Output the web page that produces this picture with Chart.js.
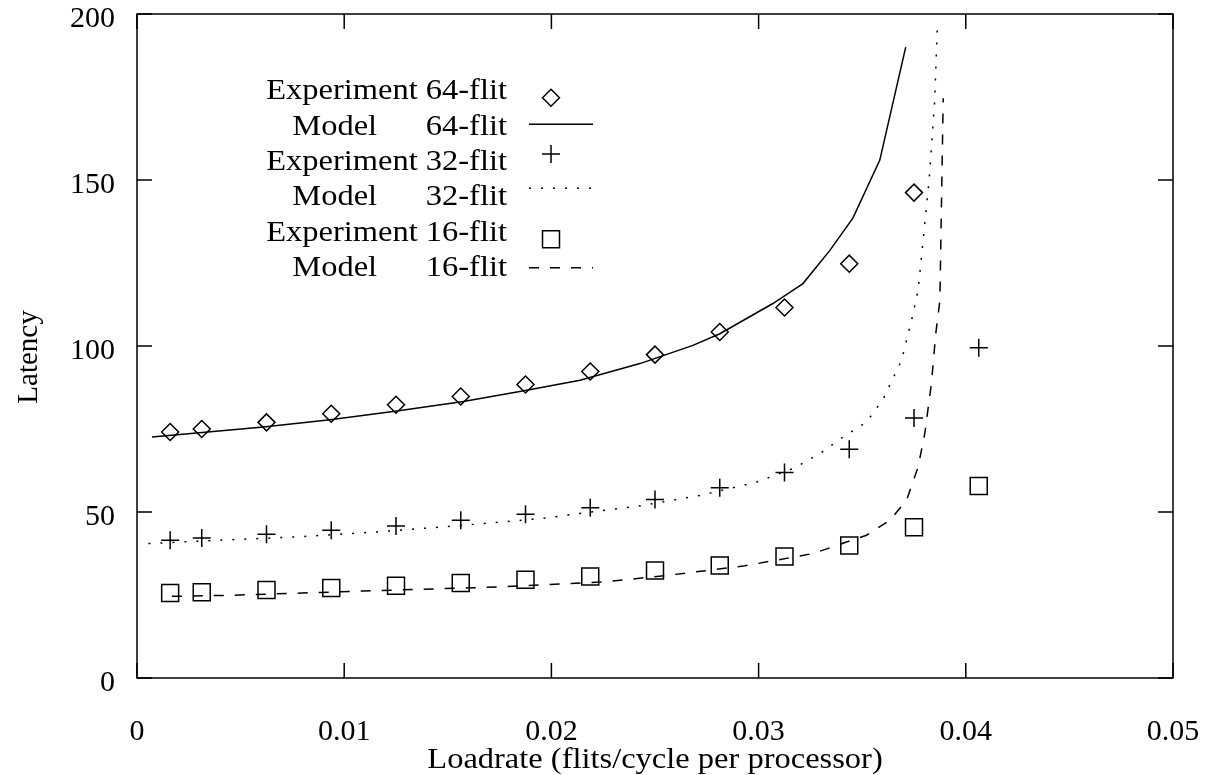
<!DOCTYPE html>
<html>
<head>
<meta charset="utf-8">
<title>Latency vs Loadrate</title>
<script src="https://cdn.jsdelivr.net/npm/chart.js@4.4.0/dist/chart.umd.min.js"></script>
<style>
    html, body { margin: 0; padding: 0; background: #fff; }
    #wrap { width: 1207px; height: 775px; }
</style>
</head>
<body>
<div id="wrap"><canvas id="latencyChart" width="1207" height="775"></canvas></div>
<script>
// Experiment load rates (flits/cycle per processor)
const expLoad = [0.0016, 0.003125, 0.00625, 0.009375, 0.0125, 0.015625, 0.01875, 0.021875, 0.025, 0.028125, 0.03125, 0.034375, 0.0375, 0.040625];

// Measured latencies
const exp64 = [74.1, 75.0, 77.0, 79.6, 82.3, 84.8, 88.4, 92.3, 97.4, 104.2, 111.6, 124.8, 146.2];
const exp32 = [41.5, 42.2, 43.3, 44.5, 45.8, 47.5, 49.3, 51.3, 53.8, 57.3, 61.9, 68.9, 78.3, 99.5];
const exp16 = [25.6, 25.8, 26.5, 27.1, 27.8, 28.6, 29.6, 30.6, 32.4, 33.9, 36.6, 39.9, 45.4, 57.8];

// Model curves
const model64Load = [0.00072, 0.0061, 0.00932, 0.01254, 0.01575, 0.01881, 0.02138, 0.02427, 0.02683, 0.02813, 0.03069, 0.03214, 0.03344, 0.03455, 0.03585, 0.0371];
const model64 = [72.6, 75.6, 77.8, 80.4, 83.3, 86.7, 89.7, 94.7, 100.2, 103.7, 112.8, 118.8, 128.8, 138.5, 156.0, 190.0];

const model32Load = [0.00055, 0.00401, 0.00771, 0.01157, 0.01575, 0.01945, 0.02442, 0.02717, 0.0299, 0.03167, 0.03296, 0.03408, 0.03521, 0.03601, 0.0369, 0.03738, 0.0377, 0.03823, 0.0385, 0.03862];
const model32 = [40.5, 41.5, 42.5, 44.0, 46.0, 48.0, 52.0, 55.0, 59.0, 63.1, 67.6, 72.6, 77.1, 84.0, 95.7, 107.7, 116.8, 150.0, 174.0, 195.3];

const model16Load = [0.00168, 0.0045, 0.01093, 0.01736, 0.02267, 0.02556, 0.02926, 0.03263, 0.03521, 0.03633, 0.03714, 0.0377, 0.03802, 0.03834, 0.03855, 0.03875, 0.03891];
const model16 = [24.6, 24.9, 26.2, 27.4, 29.0, 30.9, 33.7, 37.5, 43.0, 47.5, 53.5, 63.6, 73.6, 88.7, 103.7, 113.7, 174.6];

// Axes
const xTicks = [0, 0.01, 0.02, 0.03, 0.04, 0.05];
const xTickLabels = ['0', '0.01', '0.02', '0.03', '0.04', '0.05'];
const yTicks = [0, 50, 100, 150, 200];
const yTickLabels = ['0', '50', '100', '150', '200'];
const xTitle = 'Loadrate (flits/cycle per processor)';
const yTitle = 'Latency';

// Legend text (name, size)
const seriesNames = ['Experiment', 'Model', 'Experiment', 'Model', 'Experiment', 'Model'];
const seriesSizes = ['64-flit', '64-flit', '32-flit', '32-flit', '16-flit', '16-flit'];

const FONT = '"Liberation Serif", "Times New Roman", serif';
const STRETCH = 1.12;

function pts(xs, ys) {
    return ys.map((y, i) => ({ x: xs[i], y: y }));
}

function expSet(label, ys, style, radius) {
    return {
        label: label,
        data: pts(expLoad, ys),
        showLine: false,
        pointStyle: style,
        pointRadius: radius,
        pointHoverRadius: radius,
        pointBorderColor: '#000',
        pointBackgroundColor: 'rgba(0,0,0,0)',
        pointBorderWidth: 1.5
    };
}

function modelSet(label, xs, ys, dash) {
    return {
        label: label,
        data: pts(xs, ys),
        showLine: true,
        borderColor: '#000',
        borderWidth: 1.5,
        borderDash: dash,
        pointRadius: 0,
        tension: 0
    };
}

const datasets = [
    expSet('Experiment 64-flit', exp64, 'rectRot', 8.5),
    modelSet('Model 64-flit', model64Load, model64, []),
    expSet('Experiment 32-flit', exp32, 'cross', 9),
    modelSet('Model 32-flit', model32Load, model32, [2, 10]),
    expSet('Experiment 16-flit', exp16, 'rect', 12),
    modelSet('Model 16-flit', model16Load, model16, [10, 11])
];

// legend rows: text baseline and sample y
const legendBase = [99, 135, 170, 205, 241, 276];
const legendSampleY = [97.7, 124.3, 154, 188.3, 239.3, 267.7];

const framePlugin = {
    id: 'gnuplotFrame',
    afterDraw(chart) {
        const ctx = chart.ctx;
        const a = chart.chartArea;
        const xs = chart.scales.x, ys = chart.scales.y;
        ctx.save();
        ctx.strokeStyle = '#000';
        ctx.fillStyle = '#000';
        ctx.lineWidth = 1.5;
        ctx.setLineDash([]);
        ctx.strokeRect(a.left, a.top, a.right - a.left, a.bottom - a.top);

        // inward ticks on all four sides
        const tl = 15;
        ctx.beginPath();
        xTicks.forEach(v => {
            const px = xs.getPixelForValue(v);
            ctx.moveTo(px, a.bottom); ctx.lineTo(px, a.bottom - tl);
            ctx.moveTo(px, a.top); ctx.lineTo(px, a.top + tl);
        });
        yTicks.forEach(v => {
            const py = ys.getPixelForValue(v);
            ctx.moveTo(a.left, py); ctx.lineTo(a.left + tl, py);
            ctx.moveTo(a.right, py); ctx.lineTo(a.right - tl, py);
        });
        ctx.stroke();

        // axis titles
        ctx.font = '29px ' + FONT;
        ctx.textBaseline = 'alphabetic';
        ctx.textAlign = 'center';
        ctx.save();
        ctx.translate((a.left + a.right) / 2, 768);
        ctx.scale(STRETCH, 1);
        ctx.fillText(xTitle, 0, 0);
        ctx.restore();

        ctx.save();
        ctx.translate(37, 357);
        ctx.rotate(-Math.PI / 2);
        ctx.fillText(yTitle, 0, 0);
        ctx.restore();

        // legend
        ctx.font = '29px ' + FONT;
        ctx.textAlign = 'right';
        const sizeRight = 507;
        const sx0 = 529, sx1 = 593, sxc = 551;
        datasets.forEach((ds, i) => {
            const base = legendBase[i];
            ctx.save();
            ctx.translate(sizeRight, base);
            ctx.scale(STRETCH, 1);
            ctx.fillText(seriesNames[i] + ' ' + seriesSizes[i], 0, 0);
            ctx.restore();
            const sy = legendSampleY[i];
            if (ds.showLine) {
                ctx.save();
                ctx.lineWidth = 1.5;
                ctx.setLineDash(ds.borderDash);
                ctx.beginPath();
                ctx.moveTo(sx0, sy);
                ctx.lineTo(sx1, sy);
                ctx.stroke();
                ctx.restore();
            } else {
                ctx.save();
                ctx.lineWidth = 1.5;
                ctx.fillStyle = 'rgba(0,0,0,0)';
                Chart.helpers.drawPoint(ctx, {
                    pointStyle: ds.pointStyle,
                    radius: ds.pointRadius,
                    rotation: 0,
                    borderWidth: 1.5
                }, sxc, sy);
                ctx.restore();
            }
        });
        ctx.restore();
    }
};

// "Model" rows keep the size column aligned with the Experiment rows
seriesNames.forEach((n, i) => {
    if (n === 'Model') seriesNames[i] = 'Model     ';
});

function noPad(s) {
    s.paddingTop = 0;
    s.paddingBottom = 0;
    s.paddingLeft = 0;
    s.paddingRight = 0;
}

function buildChart() {
    new Chart(document.getElementById('latencyChart').getContext('2d'), {
        type: 'scatter',
        data: { datasets: datasets },
        options: {
            responsive: false,
            animation: false,
            devicePixelRatio: 1,
            layout: { autoPadding: false, padding: { left: 0, top: 14, right: 34, bottom: 0 } },
            plugins: {
                legend: { display: false },
                tooltip: { enabled: false }
            },
            scales: {
                x: {
                    type: 'linear',
                    min: 0,
                    max: 0.05,
                    grid: { display: false, drawTicks: false },
                    border: { display: false },
                    afterBuildTicks: (s) => { s.ticks = xTicks.map(v => ({ value: v })); },
                    afterFit: (s) => { s.height = 97; noPad(s); },
                    ticks: {
                        color: '#000',
                        padding: 36,
                        maxRotation: 0,
                        autoSkip: false,
                        font: { family: FONT, size: 30 },
                        callback: (v, i) => xTickLabels[i]
                    }
                },
                y: {
                    type: 'linear',
                    min: 0,
                    max: 200,
                    grid: { display: false, drawTicks: false },
                    border: { display: false },
                    afterBuildTicks: (s) => { s.ticks = yTicks.map(v => ({ value: v })); },
                    afterFit: (s) => { s.width = 137; noPad(s); },
                    ticks: {
                        color: '#000',
                        padding: 22,
                        labelOffset: 5,
                        autoSkip: false,
                        font: { family: FONT, size: 30 },
                        callback: (v, i) => yTickLabels[i]
                    }
                }
            }
        },
        plugins: [framePlugin]
    });
}

// make sure the serif face is ready before the canvas text is drawn
Promise.all([
    document.fonts.load('30px "Liberation Serif"'),
    document.fonts.load('29px "Liberation Serif"')
]).then(buildChart, buildChart);
</script>
</body>
</html>
